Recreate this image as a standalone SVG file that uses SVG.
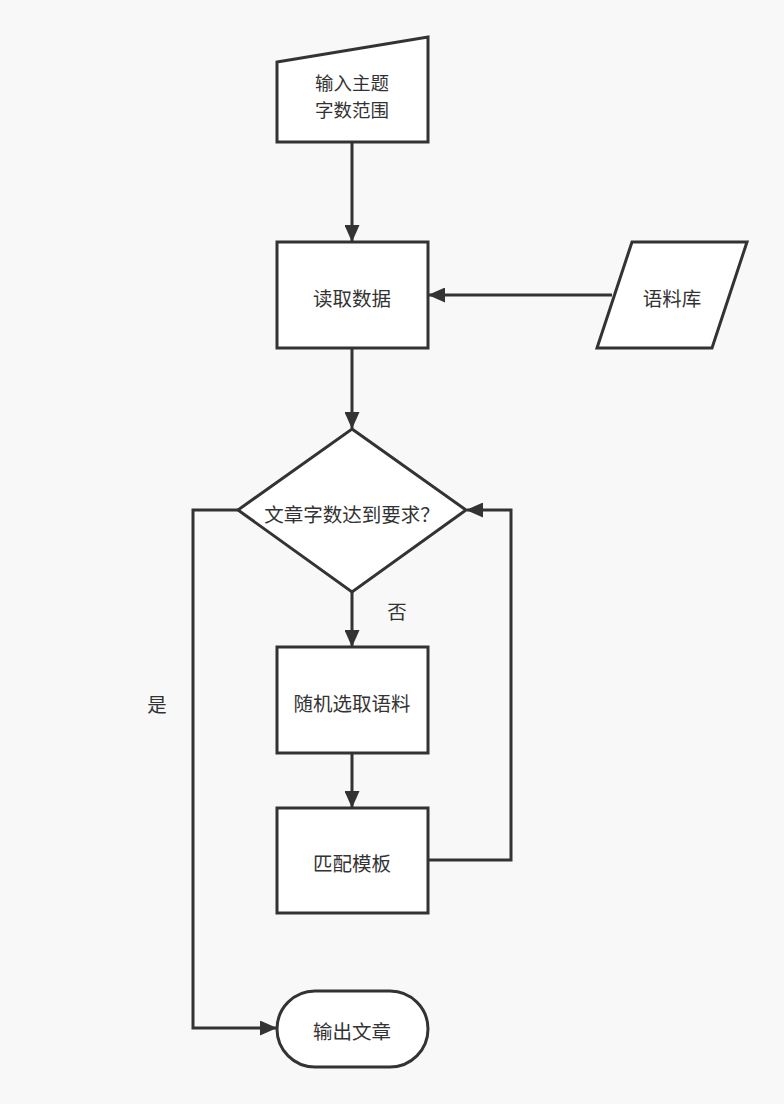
<svg xmlns="http://www.w3.org/2000/svg" width="784" height="1104" viewBox="0 0 784 1104">
<defs>
<style>
.s{fill:#ffffff;stroke:#333333;stroke-width:3}
.c{fill:none;stroke:#333333;stroke-width:3}
text{font-family:"Noto Sans CJK SC","Noto Sans",sans-serif;font-size:19.5px;fill:#333333;text-anchor:middle;dominant-baseline:central}
.t2{font-size:18.5px}
</style>
<marker id="a" viewBox="0 0 17 15" refX="16" refY="7.5" markerWidth="17" markerHeight="15" markerUnits="userSpaceOnUse" orient="auto">
<path d="M0,0 L17,7.5 L0,15 Z" fill="#333333"/>
</marker>
</defs>
<rect width="784" height="1104" fill="#f8f8f8"/>
<g id="connectors">
<path class="c" d="M352,142 V241" marker-end="url(#a)"/>
<path class="c" d="M612,295 H429" marker-end="url(#a)"/>
<path class="c" d="M352,348 V428" marker-end="url(#a)"/>
<path class="c" d="M352,592 V646" marker-end="url(#a)"/>
<path class="c" d="M352,753 V807" marker-end="url(#a)"/>
<path class="c" d="M428,860 H511 V510 H467" marker-end="url(#a)"/>
<path class="c" d="M238,510 H193 V1028 H276" marker-end="url(#a)"/>
<text x="397" y="610">否</text>
<text x="157" y="703">是</text>
</g>
<g id="input">
<path class="s" d="M277,62 L428,37 V142 H277 Z"/>
<text class="t2" x="352" y="82">输入主题</text>
<text class="t2" x="352" y="109">字数范围</text>
</g>
<g id="read">
<rect class="s" x="277" y="242" width="151" height="106"/>
<text x="352" y="297">读取数据</text>
</g>
<g id="corpus">
<path class="s" d="M632,242 H747 L712,348 H597 Z"/>
<text x="672" y="297">语料库</text>
</g>
<g id="decision">
<path class="s" d="M352,429 L466,510 L352,592 L238,510 Z"/>
<text x="352" y="513">文章字数达到要求？</text>
</g>
<g id="random">
<rect class="s" x="277" y="647" width="151" height="106"/>
<text x="352" y="702">随机选取语料</text>
</g>
<g id="match">
<rect class="s" x="277" y="808" width="151" height="105"/>
<text x="352" y="862">匹配模板</text>
</g>
<g id="output">
<rect class="s" x="277" y="991" width="151" height="76" rx="38" ry="38"/>
<text x="352" y="1030">输出文章</text>
</g>
</svg>
